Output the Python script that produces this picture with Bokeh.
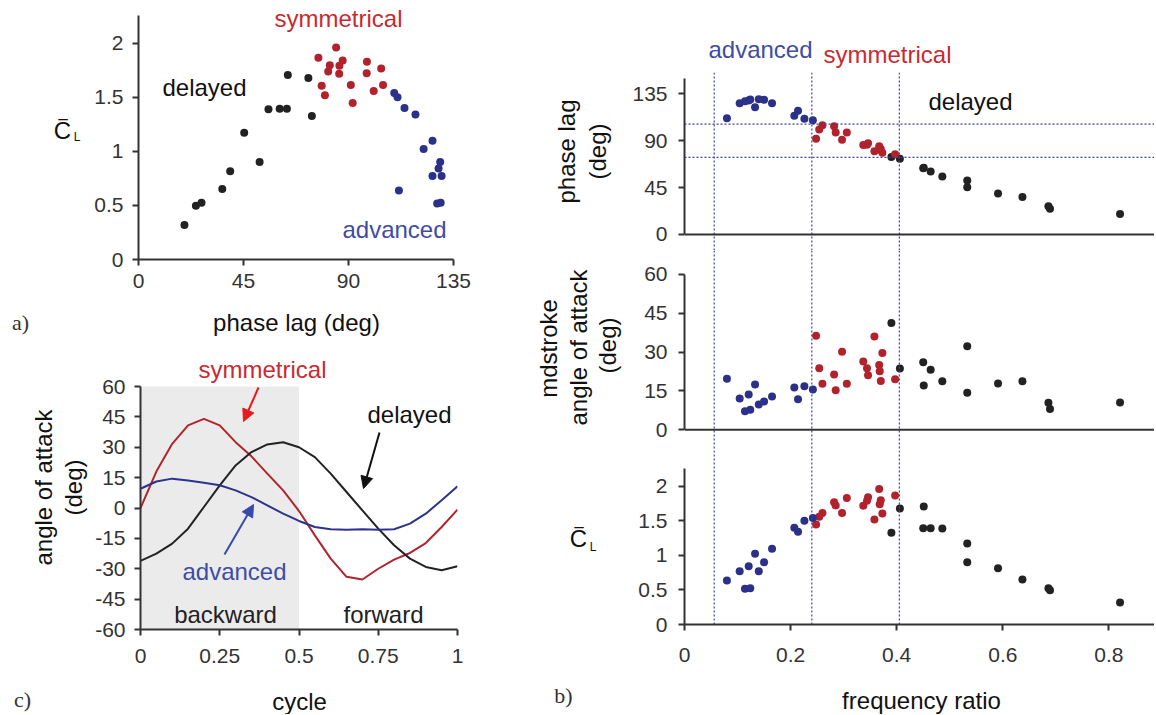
from bokeh.plotting import figure
from bokeh.models import Label, Span, Arrow, NormalHead, FixedTicker, BoxAnnotation, Range1d
from bokeh.layouts import row, column
from bokeh.embed import file_html
from bokeh.resources import INLINE

# ---------------- data ----------------
# panel c: angle of attack over one cycle
cycle = [0.00, 0.05, 0.10, 0.15, 0.20, 0.25, 0.30, 0.35, 0.40, 0.45, 0.50,
         0.55, 0.60, 0.65, 0.70, 0.75, 0.80, 0.85, 0.90, 0.95, 1.00]
aoa_symmetrical = [0.0, 18.0, 31.7, 40.8, 44.0, 40.8, 32.5, 25.5, 17.0, 8.7, -1.5,
                   -13.5, -25.0, -34.0, -35.3, -30.0, -25.5, -22.2, -17.3, -9.4, -0.8]
aoa_delayed = [-26.1, -22.5, -17.6, -10.2, 0.5, 11.2, 21.0, 27.6, 31.4, 32.5, 30.0,
               25.1, 17.0, 7.9, -1.2, -10.2, -18.4, -25.0, -29.1, -30.7, -28.8]
aoa_advanced = [9.5, 13.1, 14.5, 13.6, 12.5, 11.2, 8.7, 5.4, 1.3, -2.8, -6.4,
                -9.4, -10.5, -10.7, -10.5, -10.7, -10.5, -7.7, -2.8, 3.8, 10.7]

# experiments: frequency ratio, phase lag (deg), midstroke angle of attack (deg), mean lift coefficient
adv_freq = [0.080, 0.104, 0.114, 0.121, 0.124, 0.133, 0.140, 0.150, 0.165, 0.207, 0.214, 0.226, 0.242]
adv_phase = [111.6, 126.0, 128.0, 128.6, 129.5, 122.2, 129.9, 129.3, 126.0, 114.0, 118.7, 111.0, 109.6]
adv_aoa = [19.7, 12.1, 7.2, 13.6, 7.7, 17.5, 9.8, 10.9, 12.9, 16.3, 11.8, 16.8, 15.6]
adv_cl = [0.637, 0.771, 0.518, 0.842, 0.524, 1.022, 0.771, 0.901, 1.097, 1.400, 1.340, 1.499, 1.539]

sym_freq = [0.248, 0.254, 0.260, 0.282, 0.285, 0.297, 0.306, 0.337, 0.344, 0.346,
            0.358, 0.367, 0.368, 0.370, 0.373, 0.397]
sym_phase = [91.8, 100.8, 104.8, 104.0, 97.8, 91.0, 97.9, 86.0, 86.1, 87.5,
             79.9, 84.7, 81.3, 82.0, 78.5, 77.1]
sym_aoa = [36.3, 23.8, 17.8, 21.4, 15.3, 30.1, 17.8, 26.4, 23.8, 21.1,
           36.0, 25.0, 22.6, 18.8, 29.7, 19.5]
sym_cl = [1.447, 1.557, 1.612, 1.766, 1.722, 1.612, 1.828, 1.717, 1.791, 1.840,
          1.518, 1.960, 1.737, 1.795, 1.606, 1.865]

del_freq = [0.821, 0.689, 0.686, 0.637, 0.591, 0.533, 0.533, 0.486, 0.464, 0.450, 0.451, 0.406, 0.390]
del_phase = [19.7, 24.6, 27.0, 35.9, 39.3, 45.3, 51.9, 55.7, 60.5, 63.6, 64.0, 72.8, 74.3]
del_aoa = [10.5, 8.0, 10.4, 18.7, 17.9, 32.3, 14.3, 18.7, 23.2, 26.1, 17.1, 23.7, 41.2]
del_cl = [0.318, 0.496, 0.525, 0.651, 0.815, 1.171, 0.901, 1.388, 1.393, 1.393, 1.706, 1.677, 1.326]

# regime boundaries
freq_bounds = [0.056, 0.240, 0.405]
phase_bounds = [106, 74]

# ticks
phase_ticks = [0, 45, 90, 135]
cl_ticks = [0, 0.5, 1, 1.5, 2]
aoa_ticks = [-60, -45, -30, -15, 0, 15, 30, 45, 60]
mid_aoa_ticks = [0, 15, 30, 45, 60]
cycle_ticks = [0, 0.25, 0.5, 0.75, 1]
freq_ticks = [0, 0.2, 0.4, 0.6, 0.8]

# ---------------- style ----------------
FONT = "Liberation Sans"
SERIF = "Liberation Serif"
AX = "#333333"
INK = "#111111"
RED = "#b2222c"
RED_TXT = "#c92a32"
BLUE = "#2b3189"
BLUE_TXT = "#3e4ca6"
BLACK = "#222222"
DOTLINE = "#3a42a0"
DOT = 8
ROT = 1.5708


def make_fig(w, h, mb, g, x_axis=True):
    p = figure(width=w, height=h, x_range=Range1d(g["x0"], g["x1"]), y_range=Range1d(g["y0"], g["y1"]),
               output_backend="svg", toolbar_location=None,
               min_border_left=mb[0], min_border_right=mb[1], min_border_top=mb[2], min_border_bottom=mb[3],
               x_axis_location="below" if x_axis else None)
    p.xgrid.visible = False
    p.ygrid.visible = False
    p.outline_line_color = None
    p.background_fill_color = "white"
    p.border_fill_color = "white"
    return p


def text_fig(x0, x1, y0, y1):
    # an axis-less canvas whose data coordinates are page pixels (y grows downward)
    p = figure(width=x1 - x0, height=y1 - y0, x_range=Range1d(x0, x1), y_range=Range1d(y1, y0),
               output_backend="svg", toolbar_location=None,
               min_border_left=0, min_border_right=0, min_border_top=0, min_border_bottom=0,
               x_axis_location=None, y_axis_location=None)
    p.xgrid.visible = False
    p.ygrid.visible = False
    p.outline_line_color = None
    p.background_fill_color = "white"
    p.border_fill_color = "white"
    return p


def style_axis(ax, ticks, standoff, size="21px", bounds=None):
    ax.ticker = FixedTicker(ticks=ticks)
    ax.major_label_overrides = {t: ("%g" % t) for t in ticks}
    ax.axis_line_color = AX
    ax.axis_line_width = 2
    ax.major_tick_line_color = AX
    ax.major_tick_line_width = 2
    ax.major_tick_out = 6
    ax.major_tick_in = 0
    ax.minor_tick_line_color = None
    ax.major_label_text_font = FONT
    ax.major_label_text_font_size = size
    ax.major_label_text_color = AX
    ax.major_label_standoff = standoff
    if bounds is not None:
        ax.bounds = bounds


def to_data(g, px, py):
    x = g["x0"] + (px - g["L"]) / (g["R"] - g["L"]) * (g["x1"] - g["x0"])
    y = g["y0"] + (g["B"] - py) / (g["B"] - g["T"]) * (g["y1"] - g["y0"])
    return x, y


def put(p, x, y, t, size=24, color=INK, font=FONT, angle=0, align="center", baseline="middle"):
    p.add_layout(Label(x=x, y=y, text=t, text_font=font, text_font_size="%dpx" % size,
                       text_color=color, angle=angle, text_align=align, text_baseline=baseline))


def text(p, g, px, py, t, **kw):
    x, y = to_data(g, px, py)
    put(p, x, y, t, **kw)


def cl_label(p, cx, cy_base):
    # mean lift coefficient symbol: C with an overline and a subscript L
    put(p, cx, cy_base, "C", size=24, baseline="alphabetic")
    put(p, cx + 14.5, cy_base + 8, "L", size=12, baseline="alphabetic")
    put(p, cx + 0.5, cy_base - 1, "\u203e", size=24, baseline="alphabetic")


def arrow(p, g, a, b, color):
    x0, y0 = to_data(g, *a)
    x1, y1 = to_data(g, *b)
    p.add_layout(Arrow(end=NormalHead(size=12, fill_color=color, line_color=color, line_width=1),
                       x_start=x0, y_start=y0, x_end=x1, y_end=y1,
                       line_color=color, line_width=2))


# frame geometry (page px) and data ranges
GA = dict(L=138, R=453, T=0, B=259, x0=0, x1=135, y0=0, y1=259 / 108.2)
GC = dict(L=140, R=457, T=345, B=629, x0=0, x1=1, y0=-60, y1=60 + 41 / 2.025)
XMAX = 470 / 530.5
GB1 = dict(L=684, R=1154, T=72, B=250, x0=0, x1=XMAX, y0=-15.36, y1=155.5)
GB2 = dict(L=684, R=1154, T=250, B=450, x0=0, x1=XMAX, y0=-8.0, y1=69.25)
GB3 = dict(L=684, R=1154, T=450, B=624, x0=0, x1=XMAX, y0=0, y1=2.516)

# ---------------- panel a ----------------
fa = make_fig(430, 300, (48, 67, 0, 41), GA)
style_axis(fa.xaxis[0], phase_ticks, 8)
style_axis(fa.yaxis[0], cl_ticks, 9, bounds=(0, 2.255))
fa.scatter(del_phase, del_cl, size=DOT, color=BLACK, line_color=None)
fa.scatter(sym_phase, sym_cl, size=DOT, color=RED, line_color=None)
fa.scatter(adv_phase, adv_cl, size=DOT, color=BLUE, line_color=None)
text(fa, GA, 338, 18, "symmetrical", color=RED_TXT)
text(fa, GA, 204, 87, "delayed")
text(fa, GA, 394, 229, "advanced", color=BLUE_TXT)

textA = text_fig(0, 90, 0, 300)
cl_label(textA, 62, 150)

stripA = text_fig(0, 520, 300, 345)
put(stripA, 20, 322, "a)", size=22, font=SERIF, color=AX)
put(stripA, 296, 322, "phase lag (deg)")

# ---------------- panel c ----------------
fc = make_fig(430, 330, (50, 63, 0, 46), GC)
style_axis(fc.xaxis[0], cycle_ticks, 13)
style_axis(fc.yaxis[0], aoa_ticks, 9, bounds=(-60, 60))
fc.add_layout(BoxAnnotation(left=0, right=0.5, bottom=-60, top=60, fill_color="#ebebeb",
                            fill_alpha=1, line_color=None, level="underlay"))
fc.line(cycle, aoa_symmetrical, line_color="#b0252d", line_width=2)
fc.line(cycle, aoa_delayed, line_color=BLACK, line_width=2)
fc.line(cycle, aoa_advanced, line_color="#2c338c", line_width=2)
text(fc, GC, 262, 369, "symmetrical", color=RED_TXT)
text(fc, GC, 409, 414, "delayed")
text(fc, GC, 234, 571, "advanced", color=BLUE_TXT)
text(fc, GC, 225, 614, "backward", color="#222222")
text(fc, GC, 383, 614, "forward", color="#222222")
arrow(fc, GC, (258, 387), (243, 421), "#e8191e")
arrow(fc, GC, (379, 432), (363, 488), INK)
arrow(fc, GC, (224, 554), (253, 504), "#3a4aa8")

textC = text_fig(0, 90, 345, 675)
put(textC, 43, 510, "angle of attack", angle=ROT)
put(textC, 73, 510, "(deg)", angle=ROT)

stripC = text_fig(0, 520, 675, 714)
put(stripC, 22, 699, "c)", size=22, font=SERIF, color=AX)
put(stripC, 299, 701, "cycle")

# ---------------- panel b ----------------
def vlines(p):
    for f in freq_bounds:
        p.add_layout(Span(location=f, dimension="height", line_color=DOTLINE,
                          line_dash="2 2", line_width=1.2))


def baseline(p):
    p.add_layout(Span(location=0, dimension="width", line_color=AX, line_width=2))


stripBtop = text_fig(520, 1154, 0, 70)
put(stripBtop, 760, 49, "advanced", color=BLUE_TXT)
put(stripBtop, 887, 54, "symmetrical", color=RED_TXT)

fb1 = make_fig(529, 180, (59, 0, 2, 0), GB1, x_axis=False)
style_axis(fb1.yaxis[0], phase_ticks, 11, bounds=(0, 150))
vlines(fb1)
baseline(fb1)
for ph in phase_bounds:
    fb1.add_layout(Span(location=ph, dimension="width", line_color=DOTLINE,
                        line_dash="2 2", line_width=1.2))
fb1.scatter(del_freq, del_phase, size=DOT, color=BLACK, line_color=None)
fb1.scatter(sym_freq, sym_phase, size=DOT, color=RED, line_color=None)
fb1.scatter(adv_freq, adv_phase, size=DOT, color=BLUE, line_color=None)
text(fb1, GB1, 970, 101, "delayed")

fb2 = make_fig(529, 200, (59, 0, 0, 0), GB2, x_axis=False)
style_axis(fb2.yaxis[0], mid_aoa_ticks, 11, bounds=(0, 60))
vlines(fb2)
baseline(fb2)
fb2.scatter(del_freq, del_aoa, size=DOT, color=BLACK, line_color=None)
fb2.scatter(sym_freq, sym_aoa, size=DOT, color=RED, line_color=None)
fb2.scatter(adv_freq, adv_aoa, size=DOT, color=BLUE, line_color=None)

fb3 = make_fig(529, 225, (59, 0, 0, 51), GB3)
style_axis(fb3.xaxis[0], freq_ticks, 17)
style_axis(fb3.yaxis[0], cl_ticks, 11, bounds=(0, 2.25))
vlines(fb3)
fb3.scatter(del_freq, del_cl, size=DOT, color=BLACK, line_color=None)
fb3.scatter(sym_freq, sym_cl, size=DOT, color=RED, line_color=None)
fb3.scatter(adv_freq, adv_cl, size=DOT, color=BLUE, line_color=None)

leftB = text_fig(520, 625, 70, 675)
put(leftB, 566, 151, "phase lag", angle=ROT)
put(leftB, 597, 151, "(deg)", angle=ROT)
put(leftB, 548, 348, "mdstroke", angle=ROT)
put(leftB, 578, 347, "angle of attack", angle=ROT)
put(leftB, 607, 345, "(deg)", angle=ROT)
cl_label(leftB, 578, 538)

stripBbot = text_fig(520, 1154, 675, 714)
put(stripBbot, 563, 695, "b)", size=22, font=SERIF, color=AX)
put(stripBbot, 921, 700, "frequency ratio")

left = column(row(textA, fa), stripA, row(textC, fc), stripC)
right = column(stripBtop, row(leftB, column(fb1, fb2, fb3)), stripBbot)
layout = row(left, right)
open("out.html", "w").write(file_html(layout, INLINE))
